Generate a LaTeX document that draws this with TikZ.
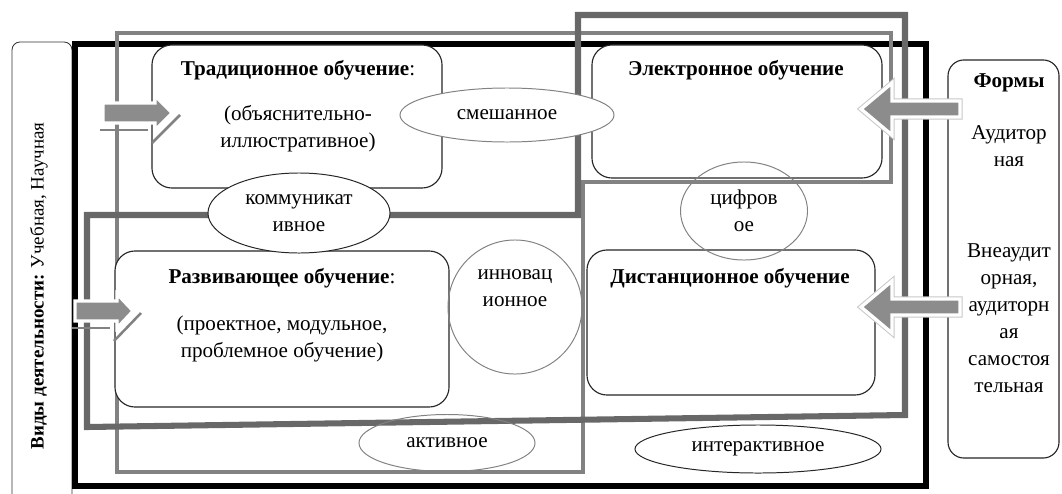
\documentclass[tikz,border=0pt]{standalone}
\usepackage{fontspec}
\setmainfont{Liberation Serif}
\usetikzlibrary{shapes.geometric, positioning}
\definecolor{framedark}{RGB}{104,104,104}
\definecolor{framelight}{RGB}{130,130,130}
\definecolor{arrowfill}{RGB}{140,140,140}
\newcommand{\diagfont}{\fontsize{15}{19.2}\selectfont}

\begin{document}
\begin{tikzpicture}[x=0.025cm, y=-0.025cm,
    every node/.style={font=\diagfont},
    box/.style={draw=black!85, line width=0.8pt, fill=white, rounded corners=0.5cm, inner sep=0pt},
    oval/.style={ellipse, draw=#1, line width=0.7pt, inner sep=0pt},
    panel/.style={draw=black!80, line width=0.6pt, rounded corners=0.2cm},
    outerframe/.style={draw=black, line width=4pt, line join=miter},
    darkframe/.style={draw=framedark, line width=4.3pt, line join=miter},
    lightframe/.style={draw=framelight, line width=3.3pt, line join=miter},
    larrow/.style={fill=arrowfill, draw=white, line width=2.2pt, line join=miter},
    rarrow/.style={fill=arrowfill, draw=white, line width=2.4pt, line join=miter,
      preaction={draw=black!22, line width=3.8pt}},
    shadowline/.style={draw=framelight, line width=1.8pt},
  ]
  \clip (0,0) rectangle (1062,493);

  % side panel
  \draw[panel] (12,520) -- (12,42) -- (72,42) -- (72,520);
  \node[rotate=90, font=\fontsize{13.5}{16}\selectfont] (kinds) at (39,286) {{\bfseries Виды деятельности:} Учебная, Научная};

  % frames
  \draw[outerframe] (75,44) -- (926,44) -- (926,486) -- (75,486) -- cycle;
  \draw[lightframe] (117,33) -- (891,33) -- (891,182) -- (583,182) -- (583,472) -- (117,472) -- cycle;
  \draw[darkframe] (87,215) -- (578,215) -- (578,15) -- (905,15) -- (905,415) -- (87,427) -- cycle;

  % forms of study
  \node[box, rounded corners=0.4cm, minimum width=2.775cm, minimum height=9.95cm] (forms) at (1003.5,259) {};
  \node (formsT) at (1009,83) {\bfseries Формы};
  \node[align=center] (aud) at (1009,146.5) {Аудитор\\ная};
  \node[align=center] (extra) at (1009,318) {Внеаудит\\орная,\\аудиторн\\ая\\самостоя\\тельная};

  % kinds of learning
  \node[box, minimum width=7.25cm, minimum height=3.575cm] (trad) at (297,116.5) {};
  \node[box, minimum width=7.25cm, minimum height=3.325cm] (elec) at (737,111.5) {};
  \node[box, minimum width=8.35cm, minimum height=3.9cm] (devel) at (282,329) {};
  \node[box, minimum width=7.2cm, minimum height=3.625cm] (dist) at (731,322.5) {};

  \node (tradT) at (298,70) {{\bfseries Традиционное обучение}:};
  \node[align=center] (tradS) at (298,129) {(объяснительно-\\иллюстративное)};
  \node (elecT) at (736,70) {\bfseries Электронное обучение};
  \node (develT) at (282,278) {{\bfseries Развивающее обучение}:};
  \node[align=center] (develS) at (282,338.5) {(проектное, модульное,\\проблемное обучение)};
  \node (distT) at (730,278) {\bfseries Дистанционное обучение};

  % ovals
  \node[oval=framelight, fill=white, minimum width=5.35cm, minimum height=1.35cm] (mixed) at (507,115) {смешанное};
  \node[oval=black!85, fill=white, minimum width=4.55cm, minimum height=2cm, align=center] (comm) at (299,213) {коммуникат\\ивное};
  \node[oval=framelight, minimum width=3.35cm, minimum height=3.35cm] (innov) at (515,307) {};
  \node[align=center] (innovT) at (515,288.5) {инновац\\ионное};
  \node[oval=framelight, minimum width=3.175cm, minimum height=2.45cm, align=center] (digit) at (744,211) {цифров\\ое};
  \node[oval=framelight, minimum width=4.4cm, minimum height=1.425cm] (active) at (447,443) {активное};
  \node[oval=black!85, fill=white, minimum width=6.15cm, minimum height=1.2cm] (inter) at (758,449) {интерактивное};

  % arrows
  \foreach \ya/\xa/\xb/\xc in {113/103/155/172, 311/75/117/133} {
    \draw[shadowline] (\xa-3,\ya+17) -- (\xb-7,\ya+17);
    \draw[shadowline] (\xb-3,\ya+30) -- (\xc+8,\ya+2);
    \draw[larrow] (\xa,\ya-10) -- (\xb,\ya-10) -- (\xb,\ya-17) -- (\xc,\ya)
      -- (\xb,\ya+17) -- (\xb,\ya+10) -- (\xa,\ya+10) -- cycle;
  }
  \foreach \ya in {109,307} {
    \draw[rarrow] (960,\ya-8) -- (892,\ya-8) -- (892,\ya-26) -- (861,\ya)
      -- (892,\ya+26) -- (892,\ya+8) -- (960,\ya+8) -- cycle;
  }
\end{tikzpicture}
\end{document}
